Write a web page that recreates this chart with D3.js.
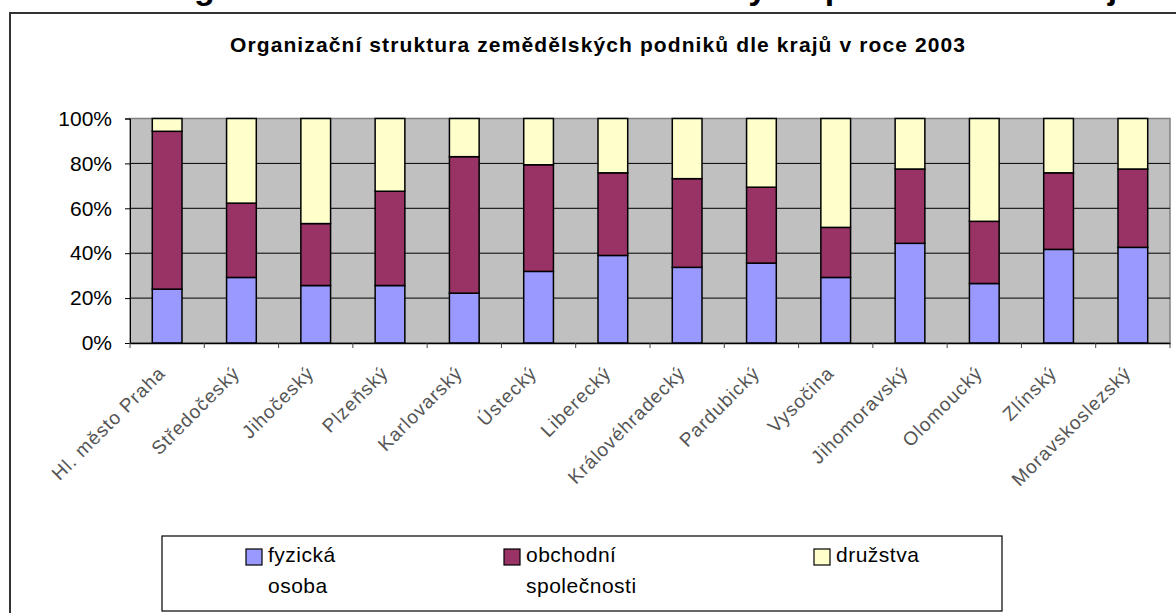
<!DOCTYPE html>
<html lang="cs">
<head>
<meta charset="utf-8">
<title>Organizační struktura</title>
<style>
  body { margin: 0; background: #fff; }
  svg { display: block; font-family: "Liberation Sans", Arial, sans-serif; }
  .grid line { stroke: #000; stroke-width: 1; }
  .ylab { font-size: 21px; fill: #000; }
  .xlab { font-size: 19px; fill: #555; letter-spacing: 1px; }
  .leg { font-size: 21px; fill: #000; letter-spacing: 0.5px; }
</style>
</head>
<body>
<div id="chart"></div>
<script src="https://cdn.jsdelivr.net/npm/d3@7"></script>
<script>
// kraje
var regions = ["Hl. město Praha", "Středočeský", "Jihočeský", "Plzeňský", "Karlovarský",
  "Ústecký", "Liberecký", "Královéhradecký", "Pardubický", "Vysočina",
  "Jihomoravský", "Olomoucký", "Zlínský", "Moravskoslezský"];

// podíly v %
var fyzicka = [24, 29.2, 25.6, 25.6, 22.2, 31.9, 39, 33.7, 35.6, 29.2, 44.4, 26.5, 41.7, 42.6];
var obchodni = [70.3, 33.1, 27.6, 42, 60.8, 47.5, 36.8, 39.5, 33.8, 22.3, 33.1, 27.7, 34.1, 34.9];
var druzstva = [5.7, 37.7, 46.8, 32.4, 17, 20.6, 24.2, 26.8, 30.6, 48.5, 22.5, 45.8, 24.2, 22.5];

var seriesNames = ["fyzická osoba", "obchodní společnosti", "družstva"];
var seriesColors = ["#9999FF", "#993366", "#FFFFCC"];
var yTicks = [0, 20, 40, 60, 80, 100];

var chartTitle = "Organizační struktura zemědělských podniků dle krajů v roce 2003";
var pageHeading = "Organizační struktura zemědělských podniků dle krajů";

var W = 1176, H = 613;
var plot = { left: 130, right: 1170, top: 118.5, bottom: 343 };

var svg = d3.select("#chart").append("svg")
  .attr("width", W).attr("height", H);

// nadpis dokumentu, uříznutý nahoře (vidět jsou jen dotahy)
svg.append("text")
  .attr("x", 150).attr("y", -1)
  .attr("textLength", 990).attr("lengthAdjust", "spacing")
  .style("font-size", "34px").style("font-weight", "bold")
  .text(pageHeading);

// rám grafu
svg.append("rect")
  .attr("x", 10).attr("y", 13).attr("width", W + 20).attr("height", H + 20)
  .attr("fill", "#fff").attr("stroke", "#333").attr("stroke-width", 2);

svg.append("text")
  .attr("x", 230).attr("y", 52)
  .attr("textLength", 735).attr("lengthAdjust", "spacing")
  .style("font-size", "21px").style("font-weight", "bold")
  .text(chartTitle);

// data pro stack
var table = regions.map(function (r, i) {
  return { region: r, s0: fyzicka[i], s1: obchodni[i], s2: druzstva[i] };
});
var keys = ["s0", "s1", "s2"];
var stacked = d3.stack().keys(keys)(table);

var x = d3.scaleBand().domain(regions)
  .range([plot.left, plot.right]).paddingInner(0.6).paddingOuter(0.3);
var xCat = d3.scaleBand().domain(regions).range([plot.left, plot.right]);
var y = d3.scaleLinear().domain([0, 100]).range([plot.bottom, plot.top]);

// pozadí plochy
svg.append("rect")
  .attr("x", plot.left).attr("y", plot.top)
  .attr("width", plot.right - plot.left).attr("height", plot.bottom - plot.top)
  .attr("fill", "#C0C0C0").attr("stroke", "#808080").attr("stroke-width", 1.5);

svg.append("g").attr("class", "grid")
  .selectAll("line").data(yTicks.filter(function (d) { return d > 0 && d < 100; }))
  .enter().append("line")
  .attr("x1", plot.left).attr("x2", plot.right)
  .attr("y1", function (d) { return y(d); }).attr("y2", function (d) { return y(d); });

// sloupce
svg.append("g").selectAll("g").data(stacked).enter().append("g")
  .attr("fill", function (d, i) { return seriesColors[i]; })
  .selectAll("rect").data(function (d) { return d; }).enter().append("rect")
  .attr("x", function (d) { return x(d.data.region); })
  .attr("width", x.bandwidth())
  .attr("y", function (d) { return y(d[1]); })
  .attr("height", function (d) { return y(d[0]) - y(d[1]); })
  .attr("stroke", "#000").attr("stroke-width", 1.5);

// osa y
var yAxis = d3.axisLeft(y).tickValues(yTicks).tickSize(5).tickPadding(13)
  .tickFormat(function (d) { return d + "%"; });
var gy = svg.append("g").attr("transform", "translate(" + plot.left + ",0)").call(yAxis);
gy.select(".domain").attr("stroke", "#000");
gy.selectAll(".tick line").attr("stroke", "#000");
gy.selectAll("text").attr("class", "ylab").attr("font-size", null).attr("font-family", null)
  .attr("fill", "#000");

// osa x
var xAxis = d3.axisBottom(xCat).tickSize(0).tickFormat("");
var gx = svg.append("g").attr("transform", "translate(0," + plot.bottom + ")").call(xAxis);
gx.select(".domain").attr("stroke", "#000").attr("stroke-width", 1.5);
gx.selectAll(".tick").remove();
gx.selectAll(".sep").data(regions.concat(["end"])).enter().append("line")
  .attr("x1", function (d, i) { return plot.left + i * xCat.step(); })
  .attr("x2", function (d, i) { return plot.left + i * xCat.step(); })
  .attr("y1", 0).attr("y2", 5).attr("stroke", "#444");

svg.append("g").selectAll("text").data(regions).enter().append("text")
  .attr("class", "xlab")
  .attr("text-anchor", "end")
  .attr("transform", function (d) {
    return "translate(" + (xCat(d) + xCat.bandwidth() / 2 - 10) + "," + (plot.bottom + 22) + ") rotate(-45)";
  })
  .attr("dy", "0.7em")
  .text(function (d) { return d; });

// legenda
var legend = { x: 162, y: 536, w: 840, h: 75 };
svg.append("rect")
  .attr("x", legend.x).attr("y", legend.y).attr("width", legend.w).attr("height", legend.h)
  .attr("fill", "#fff").attr("stroke", "#000").attr("stroke-width", 1.2);

var legX = [246, 504, 814];
var li = svg.append("g").selectAll("g").data(seriesNames).enter().append("g")
  .attr("transform", function (d, i) { return "translate(" + legX[i] + "," + 549 + ")"; });
li.append("rect").attr("width", 16).attr("height", 16)
  .attr("fill", function (d, i) { return seriesColors[i]; })
  .attr("stroke", "#000").attr("stroke-width", 1.2);
li.each(function (d) {
  var t = d3.select(this).append("text").attr("class", "leg").attr("x", 22).attr("y", 13);
  d.split(" ").forEach(function (w, k) {
    t.append("tspan").attr("x", 22).attr("dy", k === 0 ? 0 : 31).text(w);
  });
});
</script>
</body>
</html>
